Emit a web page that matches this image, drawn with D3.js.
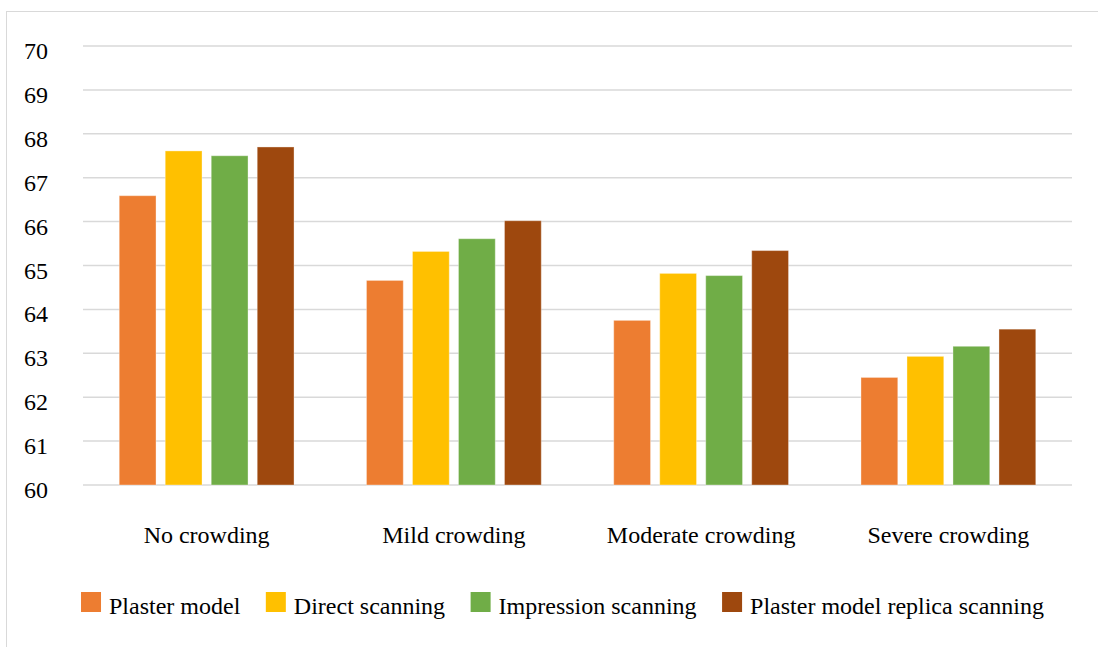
<!DOCTYPE html>
<html>
<head>
<meta charset="utf-8">
<script src="https://cdn.jsdelivr.net/npm/d3@7"></script>
<style>
  html, body { margin: 0; padding: 0; background: #fff; }
  svg { display: block; }
  text { font-family: "Liberation Serif", "Times New Roman", serif; fill: #000; }
</style>
</head>
<body>
<svg id="chart" width="1098" height="647"></svg>
<script>
// Crowding categories and mean values for each scanning method
const categories = ["No crowding", "Mild crowding", "Moderate crowding", "Severe crowding"];
const seriesNames = ["Plaster model", "Direct scanning", "Impression scanning", "Plaster model replica scanning"];
const plasterModel = [66.59, 64.66, 63.75, 62.45];
const directScanning = [67.61, 65.32, 64.82, 62.93];
const impressionScanning = [67.50, 65.61, 64.77, 63.16];
const replicaScanning = [67.70, 66.02, 65.34, 63.55];
const yTicks = [60, 61, 62, 63, 64, 65, 66, 67, 68, 69, 70];
const colors = ["#ED7D31", "#FFC000", "#70AD47", "#9E480E"];

const seriesValues = [plasterModel, directScanning, impressionScanning, replicaScanning];

const svg = d3.select("#chart");

// Outer chart frame
svg.append("rect")
  .attr("x", 6.5).attr("y", 11.5)
  .attr("width", 1120).attr("height", 700)
  .attr("fill", "none").attr("stroke", "#d9d9d9").attr("stroke-width", 1);

const plot = { left: 83, right: 1072, top: 46, bottom: 485 };

const y = d3.scaleLinear().domain([60, 70]).range([plot.bottom, plot.top]);
const x0 = d3.scaleBand().domain(categories).range([plot.left, plot.right]).padding(0);
const groupSpan = 184;
const x1 = d3.scaleBand().domain(seriesNames).range([0, groupSpan])
  .paddingInner(0.2).paddingOuter(0.1);

// Horizontal gridlines
svg.append("g")
  .selectAll("line")
  .data(yTicks)
  .join("line")
  .attr("x1", plot.left).attr("x2", plot.right)
  .attr("y1", d => y(d)).attr("y2", d => y(d))
  .attr("stroke", "#d9d9d9").attr("stroke-width", 1.5);

// Y tick labels
svg.append("g")
  .selectAll("text")
  .data(yTicks)
  .join("text")
  .attr("x", 48)
  .attr("y", d => y(d) + 13)
  .attr("text-anchor", "end")
  .attr("font-size", 24)
  .text(d => d);

// Bars
const groups = svg.append("g")
  .selectAll("g")
  .data(categories)
  .join("g")
  .attr("transform", c => `translate(${x0(c) + x0.bandwidth() / 2 - groupSpan / 2},0)`);

groups.selectAll("rect")
  .data((c, ci) => seriesNames.map((s, si) => ({ s, si, v: seriesValues[si][ci] })))
  .join("rect")
  .attr("x", d => x1(d.s))
  .attr("width", x1.bandwidth())
  .attr("y", d => y(d.v))
  .attr("height", d => y(60) - y(d.v))
  .attr("fill", d => colors[d.si])
  .attr("stroke", "#ffffff")
  .attr("stroke-opacity", 0.35)
  .attr("stroke-width", 1);

// Category labels
svg.append("g")
  .selectAll("text")
  .data(categories)
  .join("text")
  .attr("x", c => x0(c) + x0.bandwidth() / 2)
  .attr("y", 543)
  .attr("text-anchor", "middle")
  .attr("font-size", 24)
  .text(c => c);

// Legend laid out left to right and centred
const legend = svg.append("g");
const items = legend.selectAll("g")
  .data(seriesNames)
  .join("g");
items.append("rect")
  .attr("width", 20).attr("height", 20)
  .attr("y", 592)
  .attr("fill", (d, i) => colors[i]);
items.append("text")
  .attr("x", 28)
  .attr("y", 614)
  .attr("font-size", 24)
  .text(d => d);

const itemGap = 25.5;
let cursor = 0;
const offsets = [];
items.each(function () {
  const w = this.querySelector("text").getComputedTextLength();
  offsets.push(cursor);
  cursor += 28 + w + itemGap;
});
const totalW = cursor - itemGap;
const startX = 562.5 - totalW / 2;
items.attr("transform", (d, i) => `translate(${startX + offsets[i]},0)`);
</script>
</body>
</html>
